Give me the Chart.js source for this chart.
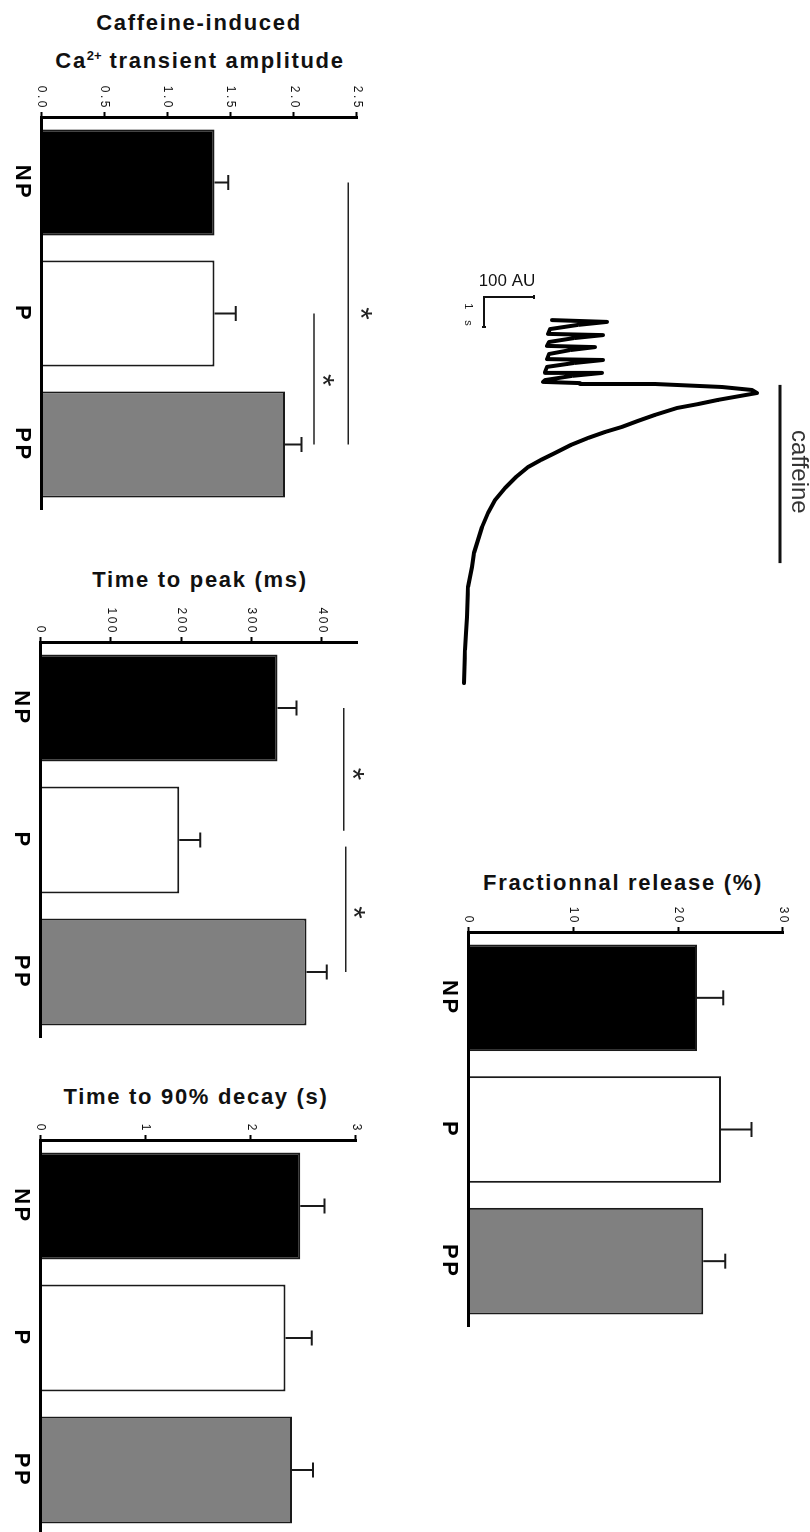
<!DOCTYPE html>
<html>
<head>
<meta charset="utf-8">
<script src="https://cdn.jsdelivr.net/npm/chart.js@4.4.1/dist/chart.umd.min.js"></script>
<style>
  html, body { margin: 0; padding: 0; background: #fff; }
  #fig { position: relative; width: 810px; height: 1532px; overflow: hidden; background: #fff; }
  .panel { position: absolute; transform-origin: 0 0; }
  .panel canvas { display: block; }
  .title {
    position: absolute; width: 400px; text-align: center; white-space: nowrap;
    font-family: "Liberation Sans", Arial, sans-serif; font-weight: bold;
    font-size: 22px; letter-spacing: 1.7px; line-height: 26px; color: #111;
  }
  .title sup { font-size: 13px; line-height: 0; letter-spacing: 0; }
</style>
</head>
<body>
<div id="fig">
  <div class="title" style="left:-1px; top:10px;">Caffeine-induced</div>
  <div class="title" style="left:0px; top:48px;">Ca<sup>2+</sup> transient amplitude</div>
  <div class="title" style="left:0px; top:567px;">Time to peak (ms)</div>
  <div class="title" style="left:-4px; top:1084px;">Time to 90% decay (s)</div>
  <div class="title" style="left:423px; top:870px;">Fractionnal release (%)</div>
</div>
<script>
// ---- data ----
const groups = ['NP', 'P', 'PP'];
const barFill = ['#000000', '#ffffff', '#808080'];

const ampMean = [1.37, 1.37, 1.93];
const ampSem = [0.11, 0.17, 0.13];
const ampTicks = [0, 0.5, 1, 1.5, 2, 2.5];
const ampTickLabels = ['0.0', '0.5', '1.0', '1.5', '2.0', '2.5'];

const ttpMean = [337, 197, 378];
const ttpSem = [27, 30, 29];
const ttpTicks = [0, 100, 200, 300, 400];
const ttpTickLabels = ['0', '100', '200', '300', '400'];

const decayMean = [2.47, 2.33, 2.39];
const decaySem = [0.23, 0.25, 0.20];
const decayTicks = [0, 1, 2, 3];
const decayTickLabels = ['0', '1', '2', '3'];

const frMean = [21.8, 24.1, 22.4];
const frSem = [2.5, 2.9, 2.1];
const frTicks = [0, 10, 20, 30];
const frTickLabels = ['0', '10', '20', '30'];

// caffeine trace: time (s) and fluorescence (AU)
const traceTime = [-0.03, 0.03, 0.13, 0.27, 0.43, 0.47, 0.57, 0.70, 0.83, 0.87, 0.97, 1.10, 1.27,
  1.30, 1.40, 1.53, 1.70, 1.73, 1.83, 1.97, 2.03, 2.07, 2.10, 2.20, 2.30, 2.40, 2.50, 2.63, 2.77,
  2.90, 3.13, 3.33, 3.53, 3.70, 3.90, 4.13, 4.40, 4.63, 4.87, 5.20, 5.57, 5.97, 6.40, 6.87, 7.30,
  7.73, 8.20, 8.87, 9.37, 9.87, 10.40, 10.97, 11.53, 12.07];
const traceAmp = [178, 288, 230, 174, 170, 280, 222, 172, 168, 264, 214, 172, 168,
  280, 222, 168, 164, 278, 218, 164, 160, 234, 384, 518, 578, 588, 554, 510, 470,
  428, 384, 350, 318, 284, 250, 216, 184, 156, 130, 106, 84, 64, 50, 38, 30,
  22, 18, 10, 9, 8, 6, 4, 3, 2];
const caffeineOn = [2.13, 8.07];
const scaleBarSec = 1;
const scaleBarAU = 100;

// significance brackets (category index range, value) and stars
const ampSig = [
  { from: 0, to: 2, at: 2.43, star: [1.0, 2.59] },
  { from: 1, to: 2, at: 2.16, star: [1.51, 2.29] }
];
const ttpSig = [
  { from: 0, to: 0.93, at: 431, star: [0.5, 455] },
  { from: 1.05, to: 2, at: 434, star: [1.55, 457] }
];

// ---- layout of each rotated panel (page pixels) ----
const ampBox = { left: 0, top: 60, zeroX: 41.5, maxX: 357, axisY: 117, catEndY: 510, max: 2.5 };
const ttpBox = { left: 0, top: 585, zeroX: 40.7, maxX: 357, axisY: 642, catEndY: 1038, max: 450 };
const decayBox = { left: 0, top: 1083, zeroX: 40.7, maxX: 356, axisY: 1140, catEndY: 1536, max: 3 };
const frBox = { left: 426, top: 875, zeroX: 468.3, maxX: 783, axisY: 932, catEndY: 1327, max: 30 };
const traceBox = { left: 440, top: 261, W: 462, H: 370 };

const FONT = '"Liberation Sans", Arial, sans-serif';
const fig = document.getElementById('fig');

// canvas drawn upright, then turned 90deg clockwise like the original figure
function placeCanvas(left, top, W, H) {
    const div = document.createElement('div');
    div.className = 'panel';
    div.style.left = left + 'px';
    div.style.top = top + 'px';
    div.style.transform = 'translate(' + H + 'px,0) rotate(90deg)';
    const canvas = document.createElement('canvas');
    canvas.width = W;
    canvas.height = H;
    div.appendChild(canvas);
    fig.appendChild(div);
    return canvas;
}

const spacingPlugin = {
    id: 'spacing',
    beforeDraw(chart) { chart.ctx.letterSpacing = '2.5px'; }
};

function errorPlugin(sems) {
    return {
        id: 'errbars',
        afterDatasetsDraw(chart) {
            const ctx = chart.ctx, xs = chart.scales.x, ys = chart.scales.y;
            const vals = chart.data.datasets[0].data;
            ctx.save();
            ctx.strokeStyle = '#1a1a1a';
            ctx.lineWidth = 2;
            for (let i = 0; i < vals.length; i++) {
                const x = xs.getPixelForValue(i);
                const y0 = ys.getPixelForValue(vals[i]);
                const y1 = ys.getPixelForValue(vals[i] + sems[i]);
                ctx.beginPath();
                ctx.moveTo(x, y0);
                ctx.lineTo(x, y1);
                ctx.moveTo(x - 7.5, y1);
                ctx.lineTo(x + 7.5, y1);
                ctx.stroke();
            }
            ctx.restore();
        }
    };
}

function sigPlugin(sig) {
    return {
        id: 'sig',
        afterDraw(chart) {
            const ctx = chart.ctx, xs = chart.scales.x, ys = chart.scales.y;
            ctx.save();
            ctx.letterSpacing = '0px';
            ctx.strokeStyle = '#222';
            ctx.lineWidth = 1.5;
            ctx.fillStyle = '#222';
            ctx.font = '32px ' + FONT;
            ctx.textAlign = 'center';
            ctx.textBaseline = 'alphabetic';
            sig.forEach(s => {
                const y = ys.getPixelForValue(s.at);
                ctx.beginPath();
                ctx.moveTo(xs.getPixelForValue(s.from), y);
                ctx.lineTo(xs.getPixelForValue(s.to), y);
                ctx.stroke();
                ctx.fillText('*', xs.getPixelForValue(s.star[0]), ys.getPixelForValue(s.star[1]) + 18.5);
            });
            ctx.restore();
        }
    };
}

function barPanel(box, means, sems, ticks, tickLabels, sig) {
    const H = box.maxX + 16 - box.left;
    const W = box.catEndY - box.top;
    const canvas = placeCanvas(box.left, box.top, W, H);
    return new Chart(canvas, {
        type: 'bar',
        data: {
            labels: groups,
            datasets: [{
                data: means,
                backgroundColor: barFill,
                borderColor: '#1a1a1a',
                borderWidth: 2,
                barPercentage: 0.81,
                categoryPercentage: 1
            }]
        },
        options: {
            responsive: false,
            animation: false,
            devicePixelRatio: 1,
            layout: { padding: { top: 16, left: 0, right: 0, bottom: 0 } },
            plugins: { legend: { display: false }, tooltip: { enabled: false } },
            scales: {
                x: {
                    offset: true,
                    grid: { display: false, drawTicks: false },
                    border: { display: true, color: '#000', width: 3, z: 1 },
                    ticks: {
                        color: '#000', padding: 6, autoSkip: false, maxRotation: 0, minRotation: 0,
                        font: { family: FONT, size: 22, weight: 'bold' }
                    },
                    afterFit: s => { s.height = box.zeroX - box.left; }
                },
                y: {
                    min: 0,
                    max: box.max,
                    afterBuildTicks: s => { s.ticks = ticks.map(v => ({ value: v })); },
                    grid: { display: true, drawOnChartArea: false, drawTicks: true, tickLength: 5, tickColor: '#000', tickWidth: 2 },
                    border: { display: true, color: '#000', width: 3, z: 1 },
                    ticks: {
                        color: '#111', padding: 2, autoSkip: false,
                        font: { family: FONT, size: 12 },
                        callback: (v, i) => tickLabels[i]
                    },
                    afterFit: s => { s.width = box.axisY - box.top; }
                }
            }
        },
        plugins: [spacingPlugin, errorPlugin(sems), sigPlugin(sig || [])]
    });
}

barPanel(ampBox, ampMean, ampSem, ampTicks, ampTickLabels, ampSig);
barPanel(ttpBox, ttpMean, ttpSem, ttpTicks, ttpTickLabels, ttpSig);
barPanel(decayBox, decayMean, decaySem, decayTicks, decayTickLabels);
barPanel(frBox, frMean, frSem, frTicks, frTickLabels);

// ---- caffeine transient trace ----
const tracePlugin = {
    id: 'traceMarks',
    afterDraw(chart) {
        const ctx = chart.ctx, xs = chart.scales.x, ys = chart.scales.y;
        ctx.save();
        ctx.letterSpacing = '0px';
        ctx.strokeStyle = '#111';
        ctx.fillStyle = '#111';
        // scale bars
        const t0 = -0.8, a0 = 42;
        const px0 = xs.getPixelForValue(t0), px1 = xs.getPixelForValue(t0 + scaleBarSec);
        const py0 = ys.getPixelForValue(a0), py1 = ys.getPixelForValue(a0 + scaleBarAU);
        ctx.lineWidth = 2;
        ctx.beginPath();
        ctx.moveTo(px1, py0);
        ctx.lineTo(px0, py0);
        ctx.lineTo(px0, py1);
        ctx.moveTo(px1, py0 - 2);
        ctx.lineTo(px1, py0 + 2);
        ctx.moveTo(px0 - 2, py1);
        ctx.lineTo(px0 + 2, py1);
        ctx.stroke();
        ctx.textAlign = 'center';
        ctx.textBaseline = 'middle';
        // "100 AU" reads horizontally on the page
        ctx.save();
        ctx.translate(xs.getPixelForValue(-1.33), ys.getPixelForValue(88));
        ctx.rotate(-Math.PI / 2);
        ctx.font = '17px ' + FONT;
        ctx.fillText('100 AU', 0, 0);
        ctx.restore();
        ctx.font = '11px ' + FONT;
        ctx.letterSpacing = '4px';
        ctx.fillText('1 s', xs.getPixelForValue(-0.15), ys.getPixelForValue(11));
        ctx.letterSpacing = '0px';
        // caffeine application bar
        const cy = ys.getPixelForValue(634);
        ctx.lineWidth = 3;
        ctx.beginPath();
        ctx.moveTo(xs.getPixelForValue(caffeineOn[0]), cy);
        ctx.lineTo(xs.getPixelForValue(caffeineOn[1]), cy);
        ctx.stroke();
        ctx.fillStyle = '#333';
        ctx.font = '24px ' + FONT;
        ctx.fillText('caffeine', xs.getPixelForValue(5.03), ys.getPixelForValue(672));
        ctx.restore();
    }
};

const traceCanvas = placeCanvas(traceBox.left, traceBox.top, traceBox.W, traceBox.H);
new Chart(traceCanvas, {
    type: 'line',
    data: {
        datasets: [{
            data: traceTime.map((t, i) => ({ x: t, y: traceAmp[i] })),
            borderColor: '#000',
            borderWidth: 4,
            pointRadius: 0,
            tension: 0,
            borderJoinStyle: 'round',
            borderCapStyle: 'round',
            fill: false
        }]
    },
    options: {
        responsive: false,
        animation: false,
        devicePixelRatio: 1,
        layout: { padding: 0 },
        plugins: { legend: { display: false }, tooltip: { enabled: false } },
        scales: {
            x: { type: 'linear', display: false, min: -2, max: 13.4 },
            y: { type: 'linear', display: false, min: -46, max: 694 }
        }
    },
    plugins: [tracePlugin]
});
</script>
</body>
</html>
